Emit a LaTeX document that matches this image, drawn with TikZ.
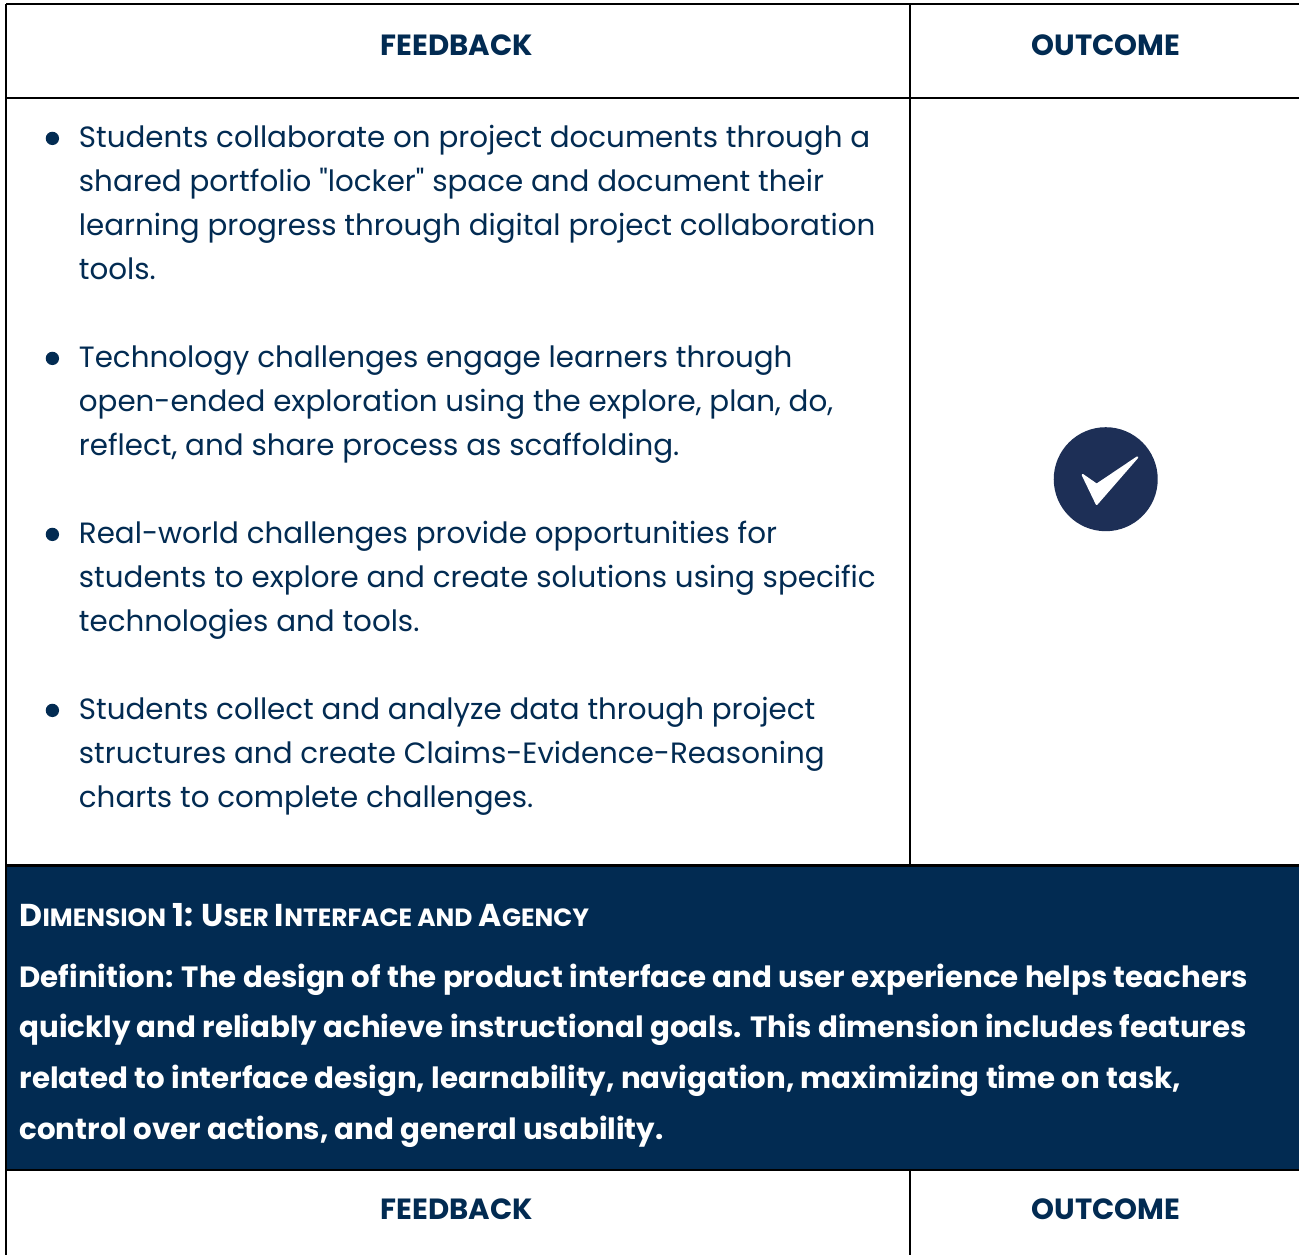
\documentclass[tikz,border=0pt]{standalone}
\usepackage{fontspec}
\setmainfont{Poppins}[Ligatures=TeXOff]
\definecolor{navy}{HTML}{022B52}
\definecolor{chk}{HTML}{1D2F56}
\tikzset{
 rule/.style={line width=2pt,black},
 head/.style={anchor=center,inner sep=0pt,font=\fontsize{21.9}{26}\selectfont\bfseries,text=navy},
 body/.style={anchor=base west,inner sep=0pt,font=\fontsize{22}{28}\selectfont,text=navy},
 bul/.style={circle,fill=navy,minimum size=10pt,inner sep=0pt},
 wline/.style={anchor=base west,inner sep=0pt,font=\fontsize{21.95}{26}\selectfont\bfseries,text=white},
}
\newcommand{\Sc}[2]{{\fontsize{23.7}{26}\selectfont #1}{\fontsize{18.7}{20}\selectfont #2}}
\begin{document}
\begin{tikzpicture}[x=1pt,y=-1pt]
\useasboundingbox (0,0) rectangle (974.25,941.25);
\fill[white] (0,0) rectangle (974.25,941.25);
\fill[navy] (4,649) rectangle (974.25,877.5);
\coordinate (tl) at (4.5,3); \coordinate (tr) at (974.25,3);
\coordinate (h1l) at (4.5,73.5); \coordinate (h1r) at (974.25,73.5);
\coordinate (m1) at (682.5,3); \coordinate (m2) at (682.5,649);
\coordinate (l2) at (4.5,649); \coordinate (r2) at (974.25,649);
\coordinate (l3) at (4.5,877.5); \coordinate (r3) at (974.25,877.5);
\coordinate (m3) at (682.5,877.5); \coordinate (m4) at (682.5,941.25);
\coordinate (bl) at (4.5,941.25);
\draw[rule] (tl)--(tr) (h1l)--(h1r) (l2)--(r2) (l3)--(r3) (tl)--(bl) (m1)--(m2) (m3)--(m4);
\node[head] (f1) at (342.7,34) {FEEDBACK};
\node[head] (o1) at (829.5,34) {OUTCOME};
\node[head] (f2) at (342.7,907) {FEEDBACK};
\node[head] (o2) at (829.5,907) {OUTCOME};
\node[bul] (b1) at (39.3,103.8) {};
\node[bul] (b2) at (39.3,268.8) {};
\node[bul] (b3) at (39.3,400.8) {};
\node[bul] (b4) at (39.3,532.8) {};
\node[body] (t11) at (59,110.8) {Students collaborate on project documents through a};
\node[body] (t12) at (59,143.8) {shared portfolio "locker" space and document their};
\node[body] (t13) at (59,176.8) {learning progress through digital project collaboration};
\node[body] (t14) at (59,209.8) {tools.};
\node[body] (t21) at (59,275.6) {Technology challenges engage learners through};
\node[body] (t22) at (59,308.6) {open-ended exploration using the explore, plan, do,};
\node[body] (t23) at (59,341.6) {reflect, and share process as scaffolding.};
\node[body] (t31) at (59,407.6) {Real-world challenges provide opportunities for};
\node[body] (t32) at (59,440.6) {students to explore and create solutions using specific};
\node[body] (t33) at (59,473.6) {technologies and tools.};
\node[body] (t41) at (59,539.6) {Students collect and analyze data through project};
\node[body] (t42) at (59,572.6) {structures and create Claims-Evidence-Reasoning};
\node[body] (t43) at (59,605.6) {charts to complete challenges.};
\node[wline] (d0) at (14.5,695) {\Sc{D}{IMENSION} \Sc{1:}{} \Sc{U}{SER} \Sc{I}{NTERFACE AND} \Sc{A}{GENCY}};
\node[wline] (d1) at (14.5,740.3) {Definition: The design of the product interface and user experience helps teachers};
\node[wline] (d2) at (14.5,778) {quickly and reliably achieve instructional goals. This dimension includes features};
\node[wline] (d3) at (14.5,816) {related to interface design, learnability, navigation, maximizing time on task,};
\node[wline] (d4) at (14.5,854.4) {control over actions, and general usability.};
\node[circle,fill=chk,minimum size=78pt,inner sep=0pt] (c) at (829.3,359.4) {};
\fill[white,draw=white,line width=1.5pt,line join=round] (812,356.2) -- (822.5,363.5) -- (853,343) -- (822.5,378) -- cycle;
\end{tikzpicture}
\end{document}
